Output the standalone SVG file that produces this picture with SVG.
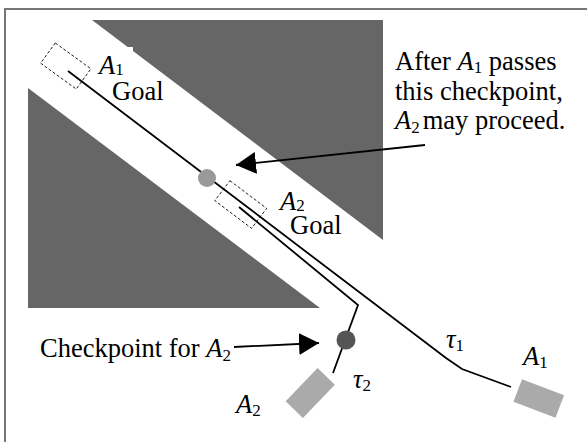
<svg xmlns="http://www.w3.org/2000/svg" width="587" height="442" viewBox="0 0 587 442">
<style>
text{font-family:"Liberation Serif","DejaVu Serif",serif;font-size:26.5px;fill:#000}
.i{font-style:italic}
.s{font-size:17px}
.obs{fill:#666}
.path{fill:none;stroke:#000;stroke-width:1.8}
.goal{fill:none;stroke:#000;stroke-width:0.8;stroke-dasharray:3,2}
.veh{fill:#aaa}
.arr{fill:none;stroke:#000;stroke-width:1.8}
</style>
<defs>
<marker id="ah" markerUnits="userSpaceOnUse" markerWidth="22" markerHeight="22" refX="20" refY="11" orient="auto" viewBox="0 0 22 22">
<path d="M0,0 L20,11 L0,22 z" fill="#000"/>
</marker>
</defs>
<rect x="0" y="0" width="587" height="442" fill="#fff"/>
<rect x="5" y="9" width="640" height="500" fill="none" stroke="#777" stroke-width="2"/>
<g id="obstacles">
<polygon class="obs" points="92,20 383,20 383,240"/>
<polygon class="obs" points="28,88 320,308 28,308"/>
<rect x="127" y="47" width="6" height="6" fill="#fff"/>
</g>
<g id="connectors">
<polyline class="path" points="68,71 446,358 462,369 511,387"/>
<polyline class="path" points="239,207 358,305 333,373"/>
<line class="arr" x1="425" y1="145" x2="236" y2="165" marker-end="url(#ah)"/>
<line class="arr" x1="234" y1="347" x2="319" y2="343" marker-end="url(#ah)"/>
</g>
<g id="goal-a1">
<rect class="goal" x="-22" y="-12.5" width="44" height="25" transform="translate(65.75,66) rotate(36)"/>
<text x="99" y="74"><tspan class="i">A</tspan><tspan class="s" dy="1">1</tspan></text>
<text x="112" y="100">Goal</text>
</g>
<g id="goal-a2">
<rect class="goal" x="-23" y="-12.5" width="46" height="25" transform="translate(240.75,204.5) rotate(37)"/>
<text x="280" y="210"><tspan class="i">A</tspan><tspan class="s" dy="1">2</tspan></text>
<text x="290" y="234">Goal</text>
</g>
<g id="checkpoint-a1">
<circle cx="207" cy="178" r="9" fill="#999"/>
</g>
<g id="checkpoint-a2">
<circle cx="346" cy="340" r="9.5" fill="#555"/>
</g>
<g id="vehicle-a1">
<rect class="veh" x="-22.5" y="-12" width="45" height="24" transform="translate(538.75,398.5) rotate(21)"/>
<text x="523" y="365"><tspan class="i">A</tspan><tspan class="s" dy="3">1</tspan></text>
</g>
<g id="vehicle-a2">
<rect class="veh" x="-23" y="-12" width="46" height="24" transform="translate(310.25,393) rotate(-46)"/>
<text x="236" y="413"><tspan class="i">A</tspan><tspan class="s" dy="3">2</tspan></text>
</g>
<g id="tau-labels">
<text x="446" y="348"><tspan class="i">τ</tspan><tspan class="s" dy="3">1</tspan></text>
<text x="353" y="388"><tspan class="i">τ</tspan><tspan class="s" dy="3">2</tspan></text>
</g>
<g id="note-a1">
<text x="395" y="70">After <tspan class="i">A</tspan><tspan class="s" dy="3">1</tspan><tspan dy="-3"> passes</tspan></text>
<text x="395" y="100">this checkpoint,</text>
<text x="395" y="129"><tspan class="i">A</tspan><tspan class="s" dy="4">2</tspan><tspan dy="-4" dx="3">may proceed.</tspan></text>
</g>
<g id="note-a2">
<text x="40" y="357">Checkpoint for <tspan class="i">A</tspan><tspan class="s" dy="4">2</tspan></text>
</g>
</svg>
